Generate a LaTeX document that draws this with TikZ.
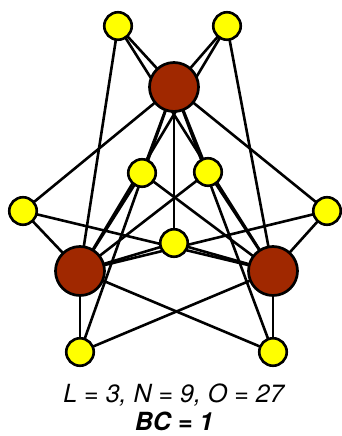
\documentclass[tikz,border=0pt]{standalone}
\usepackage{fontspec}
\setmainfont{TeX Gyre Heros}
\begin{document}
\definecolor{hubred}{RGB}{160,40,0}
\definecolor{leafyellow}{RGB}{255,255,0}
\begin{tikzpicture}[x=1pt,y=-1pt,
  hub/.style={circle,draw=black,line width=2.7pt,fill=hubred,minimum size=49pt,inner sep=0pt},
  leaf/.style={circle,draw=black,line width=2.6pt,fill=leafyellow,minimum size=27.5pt,inner sep=0pt},
  edge/.style={draw=black,line width=2.6pt},
  caption/.style={anchor=base,inner sep=0pt,font=\fontsize{25}{29}\selectfont\itshape}]
\useasboundingbox (0,0) rectangle (341,436);
% hubs
\coordinate (h1) at (174,87);
\coordinate (h2) at (80,271);
\coordinate (h3) at (273,271);
% leaves
\coordinate (y1) at (118,26);
\coordinate (y2) at (227,26);
\coordinate (y3) at (142,173);
\coordinate (y4) at (208,172);
\coordinate (y5) at (23,211);
\coordinate (y6) at (327,211);
\coordinate (y7) at (174,243);
\coordinate (y8) at (80,352);
\coordinate (y9) at (273,352);
% every leaf is joined to every hub
\foreach \y in {y1,y2,y3,y4,y5,y6,y7,y8,y9}
  \foreach \h in {h1,h2,h3}
    \draw[edge] (\y) -- (\h);
\foreach \h in {h1,h2,h3}
  \node[hub] (n\h) at (\h) {};
\foreach \y in {y1,y2,y3,y4,y5,y6,y7,y8,y9}
  \node[leaf] (n\y) at (\y) {};
\node[caption] (counts) at (173.5,402) {L = 3, N = 9, O = 27};
\node[caption,font=\fontsize{25}{29}\selectfont\bfseries\itshape] (bc) at (174,430) {BC = 1};
\end{tikzpicture}
\end{document}
